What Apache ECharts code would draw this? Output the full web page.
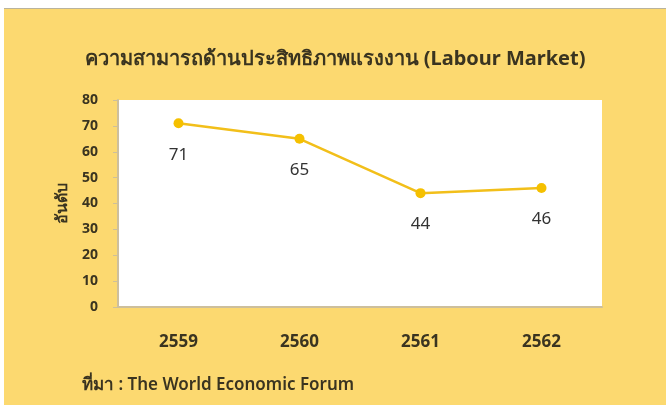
<!DOCTYPE html>
<html><head><meta charset="utf-8">
<script src="https://cdn.jsdelivr.net/npm/echarts@6/dist/echarts.min.js"></script>
<style>
html,body{margin:0;padding:0;background:#fff;width:666px;height:405px;overflow:hidden}
#wrap{position:absolute;left:4px;top:8px;width:662px;height:397px;background:#FCD970;border-top:1px solid #b9b39d}
#c{width:662px;height:397px}
</style></head>
<body><div id="wrap"><div id="c"></div></div>
<script>
const titleText = 'ความสามารถด้านประสิทธิภาพแรงงาน (Labour Market)';
const years = ['2559', '2560', '2561', '2562'];
const ranks = [71, 65, 44, 46];
const yTicks = {min: 0, max: 80, interval: 10};
const yName = 'อันดับ';
const sourceText = 'ที่มา : The World Economic Forum';

const FONT = "'Noto Sans', sans-serif";
const TXT = '#3a3420';
const chart = echarts.init(document.getElementById('c'));
chart.setOption({
  backgroundColor: 'transparent',
  animation: false,
  title: {
    text: titleText, left: 'center', top: 35,
    textStyle: {fontFamily: FONT, fontSize: 20, fontWeight: 'bold', color: TXT}
  },
  grid: {left: 114, top: 91, width: 484, height: 207, backgroundColor: '#fff', show: true, borderWidth: 0},
  xAxis: {
    type: 'category', data: years, boundaryGap: true,
    axisLine: {lineStyle: {color: '#cdbf9c', width: 2}},
    axisTick: {show: false},
    axisLabel: {margin: 27, fontFamily: FONT, fontSize: 17, fontWeight: 'bold', color: TXT}
  },
  yAxis: {
    type: 'value', min: yTicks.min, max: yTicks.max, interval: yTicks.interval,
    name: yName, nameLocation: 'middle', nameGap: 48,
    nameTextStyle: {fontFamily: FONT, fontSize: 16, fontWeight: 'bold', color: TXT},
    axisLine: {show: true, lineStyle: {color: '#cdbf9c', width: 2}},
    axisTick: {show: true, length: 5, lineStyle: {color: '#cdbf9c'}},
    splitLine: {show: false},
    axisLabel: {margin: 20, fontFamily: FONT, fontSize: 14, fontWeight: 'bold', color: TXT}
  },
  series: [{
    type: 'line', data: ranks, symbol: 'circle', symbolSize: 10,
    lineStyle: {color: '#F2BF1A', width: 2.5},
    itemStyle: {color: '#F5C000'},
    label: {show: true, position: 'bottom', distance: 18, fontFamily: FONT, fontSize: 17, color: '#333'}
  }],
  graphic: [{
    type: 'text', left: 78, top: 368,
    style: {text: sourceText, font: "600 17px 'Noto Sans', sans-serif", fill: TXT}
  }]
});
</script></body></html>
